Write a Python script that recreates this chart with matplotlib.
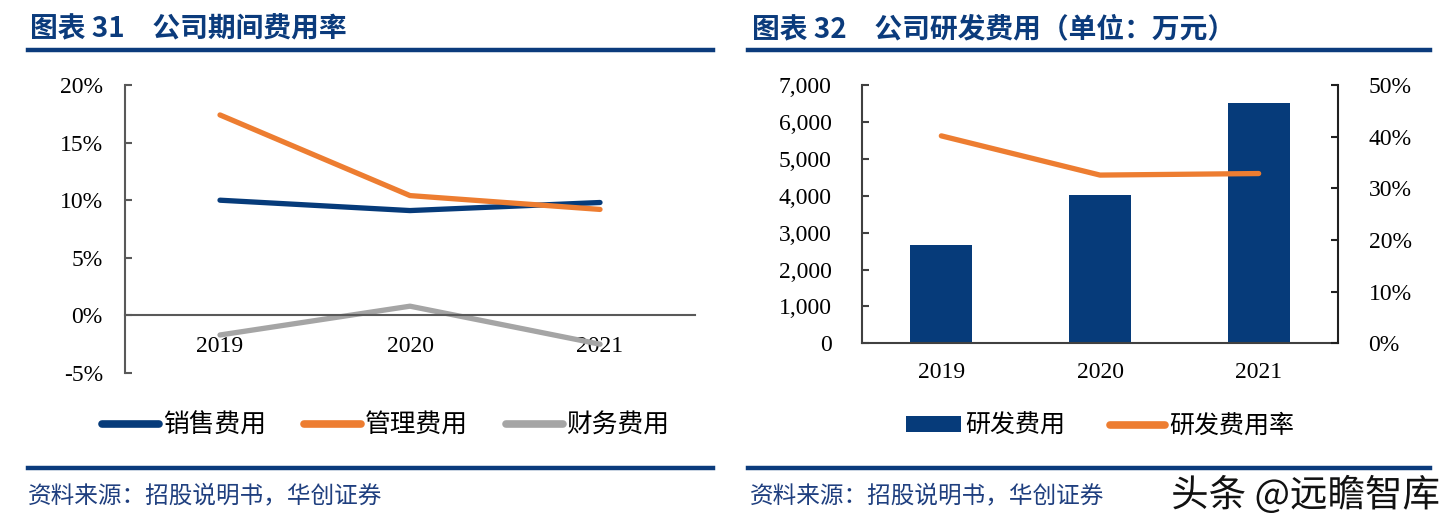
import matplotlib
matplotlib.use("Agg")
import matplotlib.pyplot as plt
from matplotlib.lines import Line2D
from matplotlib.patches import Patch
from matplotlib.ticker import FuncFormatter
import matplotlib.patheffects as pe
import numpy as np

# ---------------- data ----------------
years = ["2019", "2020", "2021"]
sales_rate = [10.0, 9.1, 9.8]
admin_rate = [17.4, 10.4, 9.2]
finance_rate = [-1.7, 0.8, -2.5]
left_yticks = [-5, 0, 5, 10, 15, 20]

rd_expense = [2660, 4030, 6530]
rd_rate = [40.2, 32.6, 32.9]
bar_yticks = [0, 1000, 2000, 3000, 4000, 5000, 6000, 7000]
rate_yticks = [0, 10, 20, 30, 40, 50]

title_left = "图表 31　公司期间费用率"
title_right = "图表 32　公司研发费用（单位：万元）"
source_text = "资料来源：招股说明书，华创证券"
legend_left = ["销售费用", "管理费用", "财务费用"]
legend_right = ["研发费用", "研发费用率"]
watermark = "头条 @远瞻智库"

# ---------------- style ----------------
NAVY = "#063B7A"
ORANGE = "#ED7D31"
GRAY = "#A5A5A5"
TITLE_BLUE = "#0B3B7C"
SERIF = "Liberation Serif"
CJK = ["Noto Sans CJK SC", "DejaVu Sans"]

W, H = 1453, 524
fig = plt.figure(figsize=(W / 100, H / 100), dpi=100)


def fx(px):
    return px / W


def fy(py):
    return 1 - py / H


# ---------- header / footer decorations ----------
for (x0, x1, tx, title) in [(28, 713, 30, title_left), (748, 1430, 752, title_right)]:
    fig.add_artist(Line2D([fx(x0), fx(x1)], [fy(50), fy(50)], color=TITLE_BLUE, lw=3.2,
                          transform=fig.transFigure))
    fig.add_artist(Line2D([fx(x0), fx(x1)], [fy(468), fy(468)], color=TITLE_BLUE, lw=3.2,
                          transform=fig.transFigure))
    fig.text(fx(tx), fy(29), title, family=CJK, fontsize=20, fontweight="bold",
             color=TITLE_BLUE, va="center", ha="left")
    fig.text(fx(tx - 2), fy(496), source_text, family=CJK, fontsize=17, style="italic",
             color="#1F3F7F", va="center", ha="left")

fig.text(fx(1440), fy(496), watermark, family=CJK, fontsize=27, color="#111111",
         ha="right", va="center",
         path_effects=[pe.withStroke(linewidth=3, foreground="white")])

# ---------------- left chart ----------------
axL = fig.add_axes([fx(125), fy(373), fx(695) - fx(125), fy(85) - fy(373)])
x = np.arange(len(years))
axL.plot(x, sales_rate, color=NAVY, lw=3.8, solid_capstyle="round", solid_joinstyle="round")
axL.plot(x, admin_rate, color=ORANGE, lw=3.8, solid_capstyle="round", solid_joinstyle="round")
axL.plot(x, finance_rate, color=GRAY, lw=3.8, solid_capstyle="round", solid_joinstyle="round")
axL.set_xlim(-0.5, 2.5)
axL.set_ylim(-5, 20)
axL.set_yticks(left_yticks)
axL.yaxis.set_major_formatter(FuncFormatter(lambda v, p: f"{int(v)}%"))
axL.set_xticks(x)
axL.set_xticklabels(years)
for s in ["top", "right"]:
    axL.spines[s].set_visible(False)
axL.spines["bottom"].set_position(("data", 0))
axL.spines["bottom"].set_color("#595959")
axL.spines["bottom"].set_linewidth(1.5)
axL.spines["left"].set_color("#595959")
axL.spines["left"].set_linewidth(1.5)
axL.tick_params(axis="y", direction="in", length=5, width=1.5, color="#595959", pad=16,
                labelsize=17)
axL.tick_params(axis="x", length=0, pad=14.5, labelsize=17)
for lab in axL.get_xticklabels() + axL.get_yticklabels():
    lab.set_family(SERIF)
    lab.set_color("black")
axL.patch.set_alpha(0)

handles_L = [Line2D([], [], color=c, lw=5.5, solid_capstyle="round") for c in (NAVY, ORANGE, GRAY)]
legL = fig.legend(handles_L, legend_left, loc="center", bbox_to_anchor=(fx(386), fy(426)),
                  ncol=3, frameon=False, prop={"family": CJK, "size": 18.5},
                  handlelength=2.2, handletextpad=0.15, columnspacing=1.5)

# ---------------- right chart ----------------
axR = fig.add_axes([fx(862), fy(343.3), fx(1338) - fx(862), fy(85.3) - fy(343.3)])
axR.bar(x, rd_expense, width=0.39, color=NAVY, zorder=2)
axR.set_xlim(-0.5, 2.5)
axR.set_ylim(0, 7000)
axR.set_yticks(bar_yticks)
axR.yaxis.set_major_formatter(FuncFormatter(lambda v, p: f"{int(v):,}"))
axR.set_xticks(x)
axR.set_xticklabels(years)
axR.spines["top"].set_visible(False)
axR.spines["right"].set_visible(False)
for s in ["left", "bottom"]:
    axR.spines[s].set_color("#404040")
    axR.spines[s].set_linewidth(1.5)
axR.tick_params(axis="y", direction="in", length=5, width=1.5, color="#404040", pad=22,
                labelsize=17)
axR.tick_params(axis="x", length=0, pad=13.5, labelsize=17)
for lab in axR.get_xticklabels() + axR.get_yticklabels():
    lab.set_family(SERIF)

axR2 = axR.twinx()
axR2.plot(x, rd_rate, color=ORANGE, lw=3.8, solid_capstyle="round", solid_joinstyle="round")
axR2.set_ylim(0, 50)
axR2.set_yticks(rate_yticks)
axR2.yaxis.set_major_formatter(FuncFormatter(lambda v, p: f"{int(v)}%"))
for s in ["top", "left", "bottom"]:
    axR2.spines[s].set_visible(False)
axR2.spines["right"].set_color("#202020")
axR2.spines["right"].set_linewidth(1.5)
axR2.tick_params(axis="y", direction="in", length=5, width=1.5, color="#202020", pad=22,
                 labelsize=17)
for lab in axR2.get_yticklabels():
    lab.set_family(SERIF)

handles_R = [Patch(facecolor=NAVY, edgecolor="none"),
             Line2D([], [], color=ORANGE, lw=5.5, solid_capstyle="round")]
legR = fig.legend(handles_R, legend_right, loc="center", bbox_to_anchor=(fx(1100), fy(426)),
                  ncol=2, frameon=False, prop={"family": CJK, "size": 18},
                  handlelength=2.2, handleheight=0.6, handletextpad=0.15, columnspacing=1.8)

fig.savefig("out.png", dpi=100)
